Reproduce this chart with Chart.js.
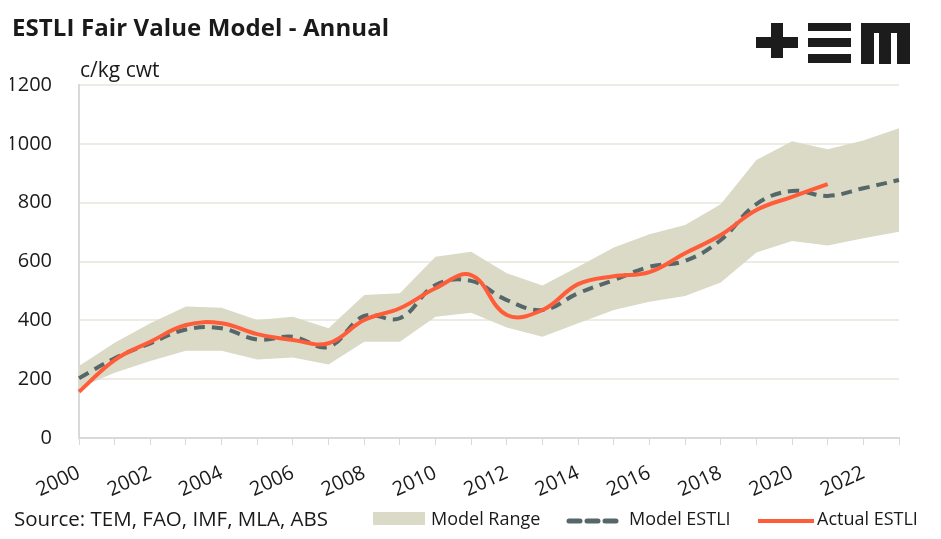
<!DOCTYPE html>
<html lang="en">
<head>
    <meta charset="UTF-8">
    <title>ESTLI Fair Value Model - Annual</title>
    <script src="https://cdn.jsdelivr.net/npm/chart.js"></script>
    <style>
        body { margin: 0; background: #fff; font-family: "Open Sans", sans-serif; color: #1a1a1a; }
        #wrap { position: relative; width: 941px; height: 539px; overflow: hidden; }
        #title { position: absolute; left: 12px; top: 10px; font-size: 24px; font-weight: bold; letter-spacing: 0.1px; }
        #unit { position: absolute; left: 80px; top: 55px; font-size: 21px; }
        #chartBox { position: absolute; left: 0; top: 0; width: 941px; height: 513px; }
        #source { position: absolute; left: 14px; top: 504px; font-size: 20.5px; }
        .leg { position: absolute; top: 506px; font-size: 18px; }
        .logo div { position: absolute; background: #1c1c1c; }
    </style>
</head>
<body>
<div id="wrap">
    <div id="chartBox"><canvas id="estliChart"></canvas></div>
    <div id="title">ESTLI Fair Value Model - Annual</div>
    <div id="unit">c/kg cwt</div>

    <!-- logo -->
    <div class="logo">
        <div style="left:756px;top:37px;width:42px;height:11px"></div>
        <div style="left:771px;top:23px;width:12px;height:35px"></div>
        <div style="left:808px;top:23px;width:43px;height:8px"></div>
        <div style="left:808px;top:38px;width:43px;height:9px"></div>
        <div style="left:808px;top:54px;width:43px;height:9px"></div>
        <div style="left:861px;top:23px;width:49px;height:10px"></div>
        <div style="left:861px;top:23px;width:13px;height:41px"></div>
        <div style="left:879px;top:23px;width:12px;height:41px"></div>
        <div style="left:897px;top:23px;width:13px;height:41px"></div>
    </div>

    <div id="source">Source: TEM, FAO, IMF, MLA, ABS</div>
    <div style="position:absolute;left:373px;top:512px;width:52px;height:13px;background:#dadac6"></div>
    <div class="leg" style="left:431px">Model Range</div>
    <svg style="position:absolute;left:566px;top:516px" width="54" height="10">
        <line x1="3" y1="5" x2="51" y2="5" stroke="#56676a" stroke-width="5" stroke-dasharray="11,7" stroke-linecap="round"/>
    </svg>
    <div class="leg" style="left:629px">Model ESTLI</div>
    <div style="position:absolute;left:758px;top:519px;width:56px;height:4px;background:#ff5c3a"></div>
    <div class="leg" style="left:817px">Actual ESTLI</div>
</div>

<script>
    const years = ['2000','2001','2002','2003','2004','2005','2006','2007','2008','2009','2010','2011',
                   '2012','2013','2014','2015','2016','2017','2018','2019','2020','2021','2022','2023'];

    // c/kg cwt
    const rangeUpper = [245, 324, 390, 447, 443, 401, 412, 373, 486, 492, 616, 633,
                        560, 518, 582, 648, 693, 724, 795, 945, 1009, 982, 1011, 1053];
    const rangeLower = [170, 222, 262, 297, 297, 267, 274, 250, 327, 327, 412, 426,
                        376, 344, 390, 435, 463, 483, 529, 631, 670, 654, 679, 701];
    const modelEstli = [203, 271, 322, 369, 373, 335, 344, 310, 415, 407, 520, 534,
                        469, 435, 492, 537, 582, 602, 673, 795, 840, 823, 849, 877];
    const actualEstli = [157, 265, 327, 384, 390, 353, 333, 322, 401, 441, 509, 554,
                         418, 435, 523, 550, 564, 628, 690, 775, 820, 863];

    const ctx = document.getElementById('estliChart').getContext('2d');
    const chart = new Chart(ctx, {
        type: 'line',
        data: {
            labels: years,
            datasets: [
                {
                    label: 'Actual ESTLI',
                    data: actualEstli,
                    borderColor: '#ff5c3a',
                    borderWidth: 4,
                    tension: 0.4,
                    pointRadius: 0,
                    fill: false
                },
                {
                    label: 'Model ESTLI',
                    data: modelEstli,
                    borderColor: '#56676a',
                    borderWidth: 4,
                    borderDash: [11, 7],
                    tension: 0.4,
                    pointRadius: 0,
                    fill: false
                },
                {
                    label: 'Model Range',
                    data: rangeUpper,
                    borderWidth: 0,
                    borderColor: 'rgba(0,0,0,0)',
                    backgroundColor: '#dadac6',
                    tension: 0,
                    pointRadius: 0,
                    fill: '+1'
                },
                {
                    label: 'Model Range low',
                    data: rangeLower,
                    borderWidth: 0,
                    borderColor: 'rgba(0,0,0,0)',
                    tension: 0,
                    pointRadius: 0,
                    fill: false
                }
            ]
        },
        options: {
            responsive: true,
            maintainAspectRatio: false,
            animation: false,
            layout: { padding: { left: 10, right: 42, top: 85, bottom: 0 } },
            plugins: {
                legend: { display: false },
                tooltip: { enabled: false }
            },
            scales: {
                x: {
                    grid: { drawOnChartArea: false, drawTicks: true, tickLength: 7, color: '#d9d9d9' },
                    border: { color: '#d9d9d9', width: 2 },
                    ticks: {
                        autoSkip: false,
                        maxRotation: 25,
                        minRotation: 25,
                        color: '#1a1a1a',
                        font: { family: 'Open Sans', size: 20 },
                        padding: 16,
                        callback: function (value, index) {
                            return index % 2 === 0 ? years[index] : '';
                        }
                    },
                    afterFit: function (scale) {
                        // keep the rotated first label from pushing the plot right
                        scale.paddingLeft = 0;
                        scale.paddingRight = 0;
                        scale.height = 75;
                    }
                },
                y: {
                    min: 0,
                    max: 1200,
                    ticks: {
                        stepSize: 200,
                        color: '#1a1a1a',
                        font: { family: 'Open Sans', size: 20 },
                        padding: 27,
                        callback: function (value) { return String(value); }
                    },
                    grid: { color: '#ecece2', lineWidth: 2, drawTicks: false },
                    border: { color: '#d9d9d9', width: 2 },
                    afterFit: function (scale) { scale.width = 69; }
                }
            }
        }
    });
</script>
</body>
</html>
